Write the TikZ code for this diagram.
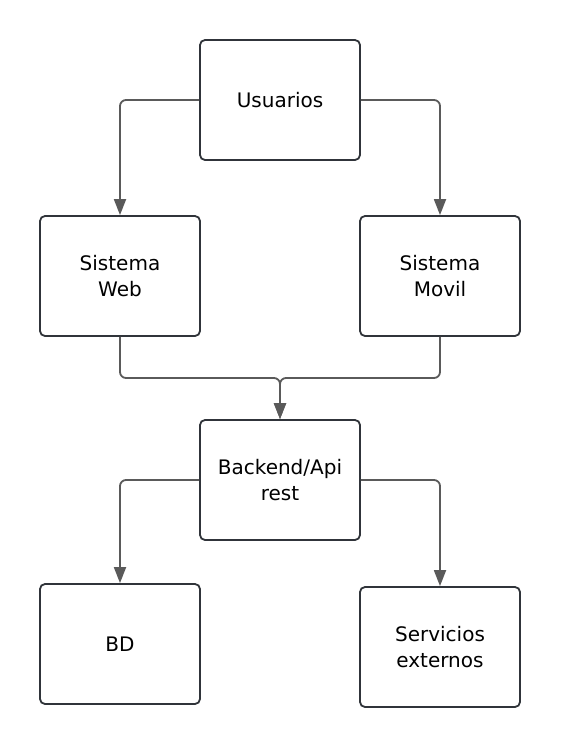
\documentclass[tikz,border=0pt]{standalone}
\usepackage{fontspec}
\setmainfont{DejaVu Sans}
\usetikzlibrary{arrows.meta}
\definecolor{boxc}{HTML}{30343A}
\definecolor{linec}{HTML}{5A5A5A}
\begin{document}
\begin{tikzpicture}[x=1pt,y=-1pt,
  box/.style={draw=boxc, line width=1.8pt, rounded corners=5pt, minimum width=160pt, minimum height=120pt, align=center, font=\fontsize{20}{26}\selectfont, inner sep=0pt, fill=white},
  conn/.style={draw=linec, line width=1.8pt, rounded corners=6pt, -{Triangle[length=16pt,width=12pt]}}]
\useasboundingbox[fill=white] (0,0) rectangle (560,747);
\node[box] (u) at (280,100) {Usuarios};
\node[box] (web) at (120,276) {Sistema\\Web};
\node[box] (mov) at (440,276) {Sistema\\Movil};
\node[box] (be) at (280,480) {Backend/Api\\rest};
\node[box] (bd) at (120,644) {BD};
\node[box] (se) at (440,647) {Servicios\\externos};
\coordinate (m) at (280,378);
\draw[conn] (u.west) -| (web.north);
\draw[conn] (u.east) -| (mov.north);
\draw[conn] (web.south) |- (m) -- (be.north);
\draw[conn] (mov.south) |- (m) -- (be.north);
\draw[conn] (be.west) -| (bd.north);
\draw[conn] (be.east) -| (se.north);
\end{tikzpicture}
\end{document}
